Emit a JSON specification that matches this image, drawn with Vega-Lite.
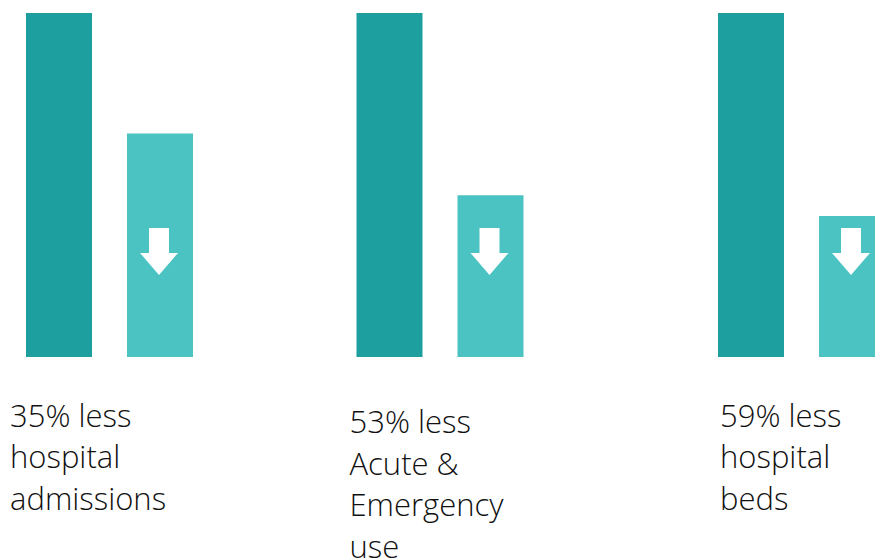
{
  "$schema": "https://vega.github.io/schema/vega-lite/v6.json",
  "width": 875,
  "height": 560,
  "padding": 0,
  "autosize": {"type": "none"},
  "background": "white",
  "config": {"view": {"stroke": null}},
  "datasets": {
    "bars": [
      {"group": "hospital admissions", "idx": 0, "series": "Before", "value": 100},
      {"group": "hospital admissions", "idx": 0, "series": "After", "value": 65},
      {"group": "Acute & Emergency use", "idx": 1, "series": "Before", "value": 100},
      {"group": "Acute & Emergency use", "idx": 1, "series": "After", "value": 47},
      {"group": "hospital beds", "idx": 2, "series": "Before", "value": 100},
      {"group": "hospital beds", "idx": 2, "series": "After", "value": 41}
    ],
    "labels": [
      {"idx": 0, "label": "35% less\nhospital\nadmissions"},
      {"idx": 1, "label": "53% less\nAcute &\nEmergency\nuse"},
      {"idx": 2, "label": "59% less\nhospital\nbeds"}
    ]
  },
  "resolve": {"scale": {"x": "shared", "y": "shared"}},
  "encoding": {
    "x": {"field": "idx", "type": "quantitative", "axis": null,
      "scale": {"domain": [0, 1, 2], "range": [59, 389.5, 751], "zero": false, "nice": false, "padding": 0}}
  },
  "layer": [
    {
      "data": {"name": "bars"},
      "transform": [{"filter": "datum.series === 'Before'"}],
      "mark": {"type": "bar", "orient": "vertical", "width": 66, "color": "#1d9fa0"},
      "encoding": {
        "y": {"field": "value", "type": "quantitative", "axis": null,
          "scale": {"domain": [0, 100], "range": [357, 13], "nice": false, "zero": true}}
      }
    },
    {
      "data": {"name": "bars"},
      "transform": [{"filter": "datum.series === 'After'"}],
      "mark": {"type": "bar", "orient": "vertical", "width": 66, "xOffset": 101, "color": "#4cc3c3"},
      "encoding": {
        "y": {"field": "value", "type": "quantitative", "axis": null}
      }
    },
    {
      "data": {"name": "bars"},
      "transform": [{"filter": "datum.series === 'After'"}],
      "mark": {"type": "point", "filled": true, "color": "white", "opacity": 1, "size": 2209, "xOffset": 100,
        "shape": "M-0.425,-1 L0.425,-1 L0.425,0.064 L0.81,0.064 L0,1 L-0.81,0.064 L-0.425,0.064 Z"},
      "encoding": {
        "y": {"datum": 30.7, "type": "quantitative", "axis": null}
      }
    },
    {
      "data": {"name": "labels"},
      "transform": [{"filter": "datum.idx === 0"}],
      "mark": {"type": "text", "align": "left", "baseline": "alphabetic", "dx": -49, "lineBreak": "\n", "lineHeight": 41.5, "font": "Open Sans", "fontWeight": 300, "fontSize": 31, "color": "#111111"},
      "encoding": {"y": {"datum": -20.3, "type": "quantitative"}, "text": {"field": "label"}}
    },
    {
      "data": {"name": "labels"},
      "transform": [{"filter": "datum.idx === 1"}],
      "mark": {"type": "text", "align": "left", "baseline": "alphabetic", "dx": -40, "lineBreak": "\n", "lineHeight": 41.5, "font": "Open Sans", "fontWeight": 300, "fontSize": 31, "color": "#111111"},
      "encoding": {"y": {"datum": -22.1, "type": "quantitative"}, "text": {"field": "label"}}
    },
    {
      "data": {"name": "labels"},
      "transform": [{"filter": "datum.idx === 2"}],
      "mark": {"type": "text", "align": "left", "baseline": "alphabetic", "dx": -31, "lineBreak": "\n", "lineHeight": 41.5, "font": "Open Sans", "fontWeight": 300, "fontSize": 31, "color": "#111111"},
      "encoding": {"y": {"datum": -20.3, "type": "quantitative"}, "text": {"field": "label"}}
    }
  ]
}
